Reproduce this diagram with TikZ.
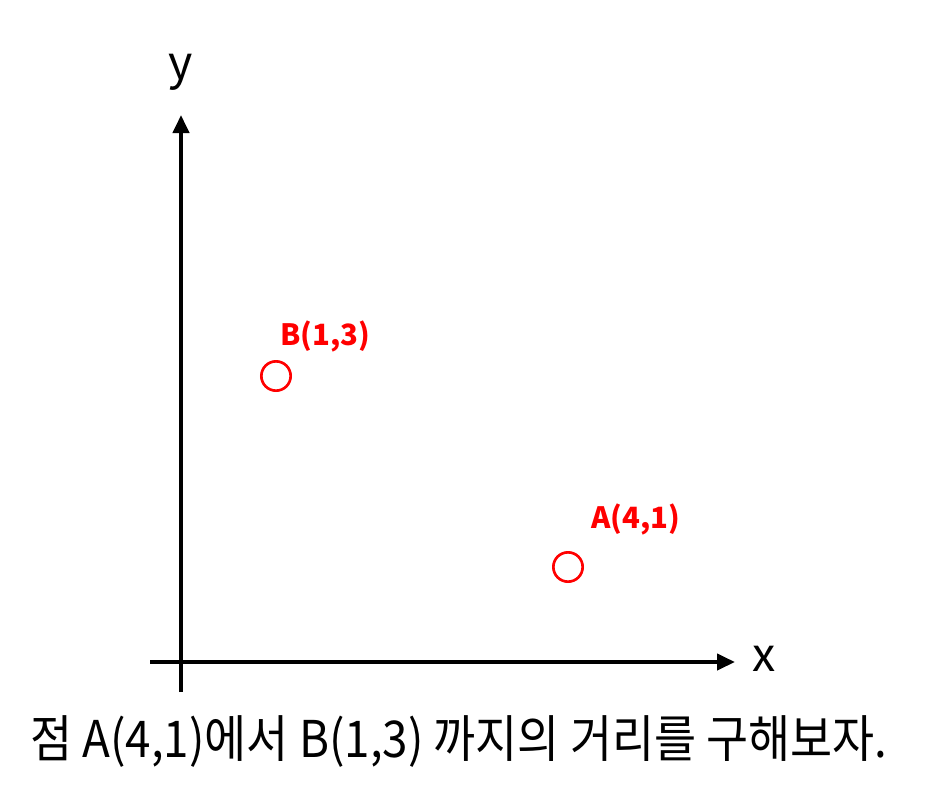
\documentclass[tikz,border=0pt]{standalone}
\usepackage{fontspec}
\setmainfont{Noto Sans CJK KR}
\usetikzlibrary{arrows.meta}
\definecolor{ptred}{RGB}{255,0,0}
\tikzset{
  axis/.style={line width=3pt, -{Triangle[length=13.5pt,width=12pt]}},
  pt/.style={circle, draw=ptred, line width=2pt, minimum size=22pt, inner sep=0pt},
  ptlabel/.style={text=ptred, font=\fontsize{22}{26}\selectfont\bfseries, inner sep=0pt},
  axlabel/.style={font=\fontsize{35}{40}\selectfont, inner sep=0pt},
}
\begin{document}
\begin{tikzpicture}[x=0.75pt,y=-0.75pt]
\useasboundingbox (0,0) rectangle (937,803);
\coordinate (ybot) at (181,692);
\coordinate (ytop) at (181,115);
\coordinate (xleft) at (150,662);
\coordinate (xright) at (735,662);
\draw[axis] (ybot) -- (ytop);
\draw[axis] (xleft) -- (xright);
\node[axlabel] (ylab) at (181,72) {y};
\node[axlabel] (xlab) at (764,659) {x};
\node[pt] (B) at (276,376) {};
\node[pt] (A) at (568,567) {};
\node[ptlabel] (Blab) at (325,336) {B(1,3)};
\node[ptlabel] (Alab) at (636,519) {A(4,1)};
\node[inner sep=0pt] (cap) at (459,742) {\resizebox{643pt}{\height}{\fontsize{38}{44}\selectfont 점 A(4,1)에서 B(1,3) 까지의 거리를 구해보자.}};
\end{tikzpicture}
\end{document}
